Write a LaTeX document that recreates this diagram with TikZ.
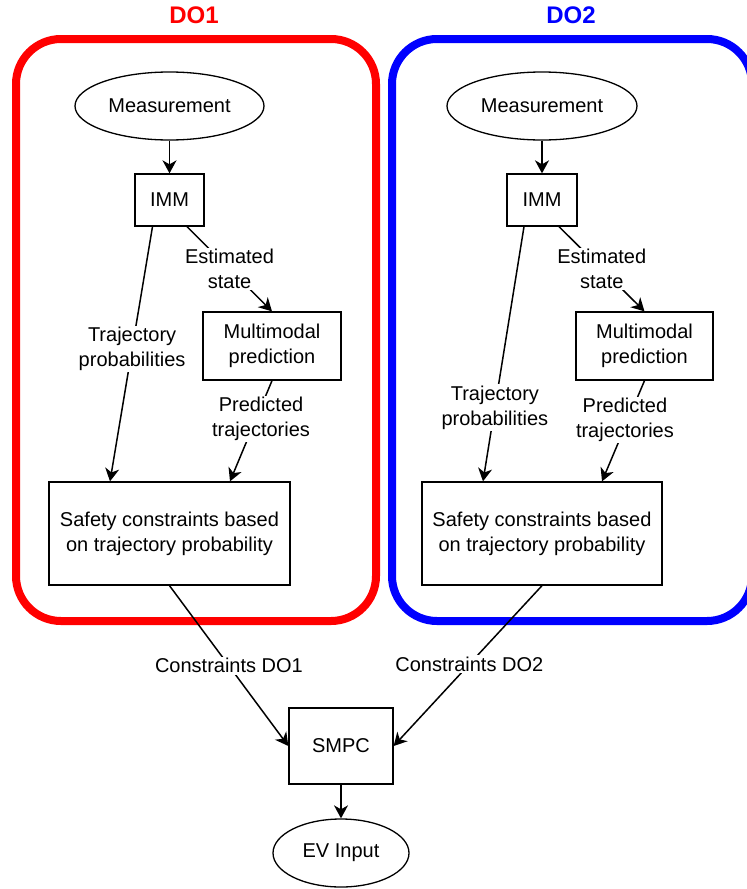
\documentclass[tikz,border=0pt]{standalone}
\usepackage{fontspec}
\setmainfont{Liberation Sans}
\usetikzlibrary{shapes.geometric,arrows.meta}
\begin{document}
\begin{tikzpicture}[x=1pt,y=-1pt,
  every node/.style={font=\fontsize{20}{25}\selectfont, align=center},
  blockbox/.style={draw, line width=1.3pt, fill=white, inner sep=0pt},
  oval/.style={ellipse, draw, line width=1.3pt, fill=white, inner sep=0pt},
  flow/.style={line width=1.5pt, -{Stealth[length=13pt,width=14pt,inset=4pt]}},
  lbl/.style={fill=white, inner sep=1.5pt},
  group/.style={line width=8pt, rounded corners=45pt},
  grouptitle/.style={font=\fontsize{24}{28}\selectfont\bfseries}]
\useasboundingbox (0,0) rectangle (747,889);

% group frames
\draw[group, color={rgb,255:red,255;green,0;blue,0}] (16,39) rectangle (376,621);
\draw[group, color={rgb,255:red,0;green,0;blue,255}] (392,39) rectangle (752,621);
\node[grouptitle, text={rgb,255:red,255;green,0;blue,0}] (t1) at (194,15) {DO1};
\node[grouptitle, text={rgb,255:red,0;green,0;blue,255}] (t2) at (571,15) {DO2};

% DO1 chain
\node[oval, minimum width=189pt, minimum height=68pt] (m1) at (169.5,106) {Measurement};
\node[blockbox, minimum width=69pt, minimum height=52pt] (imm1) at (169.5,200) {IMM};
\node[blockbox, minimum width=138pt, minimum height=68pt] (mm1) at (272,346) {Multimodal\\prediction};
\node[blockbox, minimum width=241pt, minimum height=103pt] (sc1) at (169.5,533.5) {Safety constraints based\\on trajectory probability};

% DO2 chain
\node[oval, minimum width=190pt, minimum height=68pt] (m2) at (542,106) {Measurement};
\node[blockbox, minimum width=70pt, minimum height=52pt] (imm2) at (542,200) {IMM};
\node[blockbox, minimum width=137pt, minimum height=68pt] (mm2) at (644.5,346) {Multimodal\\prediction};
\node[blockbox, minimum width=240pt, minimum height=103pt] (sc2) at (542,533.5) {Safety constraints based\\on trajectory probability};

% controller and output
\node[blockbox, minimum width=104pt, minimum height=76pt] (smpc) at (341,746) {SMPC};
\node[oval, minimum width=136pt, minimum height=68pt] (ev) at (341,853) {EV Input};

% DO1 connectors
\draw[flow] (m1) -- (imm1);
\draw[flow] ([xshift=17.5pt]imm1.south) -- node[lbl, pos=0.5] {Estimated\\state} (mm1.north);
\draw[flow] ([xshift=-17pt]imm1.south) -- node[lbl, pos=0.48] {Trajectory\\probabilities} ([xshift=-59.5pt]sc1.north);
\draw[flow] (mm1.south) -- node[lbl, pos=0.38, xshift=5pt] {Predicted\\trajectories} ([xshift=60.5pt]sc1.north);

% DO2 connectors
\draw[flow] (m2) -- (imm2);
\draw[flow] ([xshift=17pt]imm2.south) -- node[lbl, pos=0.5] {Estimated\\state} (mm2.north);
\draw[flow] ([xshift=-18pt]imm2.south) -- node[lbl, pos=0.71] {Trajectory\\probabilities} ([xshift=-59pt]sc2.north);
\draw[flow] (mm2.south) -- node[lbl, pos=0.39, xshift=-3pt] {Predicted\\trajectories} ([xshift=60pt]sc2.north);

% constraints into the controller
\draw[flow] (sc1.south) -- node[lbl, pos=0.5] {Constraints DO1} (smpc.west);
\draw[flow] (sc2.south) -- node[lbl, pos=0.49] {Constraints DO2} (smpc.east);
\draw[flow] (smpc) -- (ev);
\end{tikzpicture}
\end{document}
